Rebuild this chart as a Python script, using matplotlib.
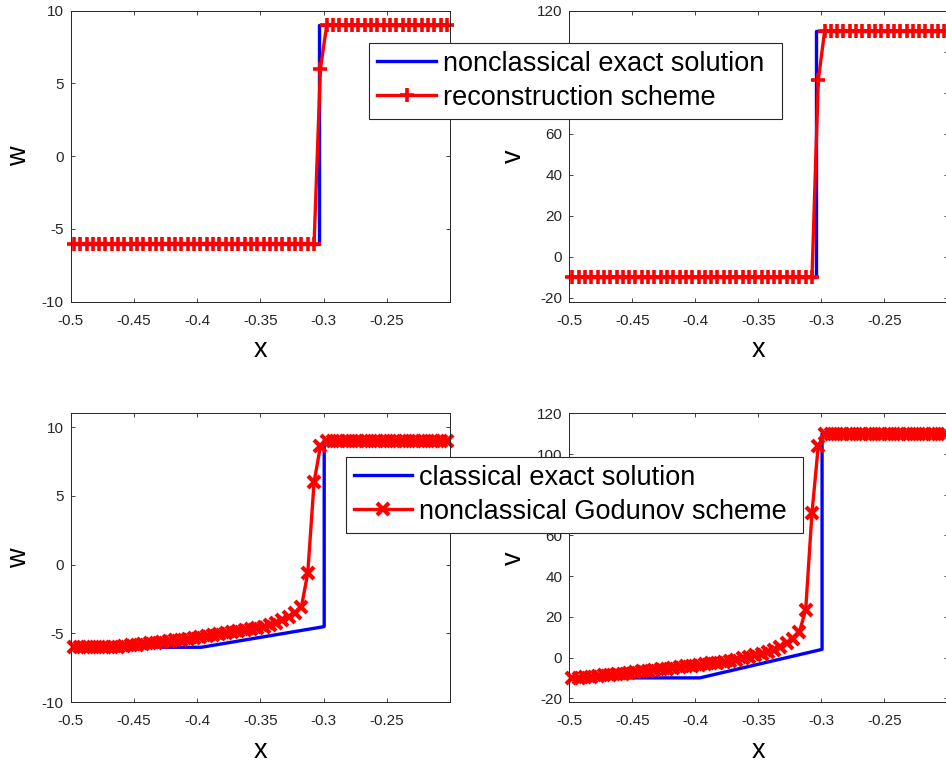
import numpy as np
import matplotlib.pyplot as plt

plt.rcParams['font.family'] = ['Liberation Sans', 'DejaVu Sans']
plt.rcParams['axes.unicode_minus'] = False

# mesh cell centres shown in the window
x_cells = np.round(np.arange(60) * 0.005 - 0.4975, 4)

# nonclassical exact solution (top row)
x_exact_nc = [-0.5, -0.304, -0.304, -0.2]
w_exact_nc = [-6.0, -6.0, 9.0, 9.0]
v_exact_nc = [-10.0, -10.0, 110.0, 110.0]

# reconstruction scheme (top row)
w_recon = [-6.0] * 39 + [6.0] + [9.0] * 20
v_recon = [-10.0] * 39 + [86.0] + [110.0] * 20

# classical exact solution (bottom row)
x_exact_cl = [-0.5, -0.3965, -0.2995, -0.2995, -0.2]
w_exact_cl = [-6.0, -6.0, -4.5, 9.0, 9.0]
v_exact_cl = [-10.0, -10.0, 4.0, 110.0, 110.0]

# nonclassical Godunov scheme (bottom row)
w_god = [-6.0, -6.0, -6.0, -6.0, -6.0, -5.99, -5.98, -5.95, -5.91, -5.87,
         -5.82, -5.77, -5.72, -5.67, -5.61, -5.56, -5.50, -5.44, -5.38, -5.32,
         -5.26, -5.20, -5.13, -5.06, -4.99, -4.92, -4.85, -4.77, -4.69, -4.60,
         -4.50, -4.38, -4.24, -4.05, -3.80, -3.50, -3.05, -0.6, 6.0, 8.6] + [9.0] * 20
v_god = [-10.0, -9.9, -9.7, -9.4, -9.1, -8.8, -8.5, -8.2, -7.9, -7.5,
         -7.1, -6.8, -6.4, -6.1, -5.8, -5.4, -5.1, -4.7, -4.4, -4.0,
         -3.7, -3.3, -2.9, -2.5, -2.0, -1.5, -1.0, -0.4, 0.3, 1.0,
         1.8, 2.8, 3.9, 5.3, 7.0, 9.2, 12.6, 23.4, 71.0, 104.0] + [110.0] * 20

xticks = [-0.5, -0.45, -0.4, -0.35, -0.3, -0.25]
xticklabels = ['-0.5', '-0.45', '-0.4', '-0.35', '-0.3', '-0.25']
wticks = [-10, -5, 0, 5, 10]
vticks = [-20, 0, 20, 40, 60, 80, 100, 120]

W, H = 946, 765
fig = plt.figure(figsize=(W / 100, H / 100), dpi=100)


def px_axes(left, top, right, bottom):
    return fig.add_axes([left / W, 1 - bottom / H, (right - left) / W, (bottom - top) / H])


ax_tl = px_axes(70.7, 10.7, 450, 301.7)
ax_tr = px_axes(569.3, 10.7, 947.5, 301.7)
ax_bl = px_axes(70.7, 413.3, 450, 702.3)
ax_br = px_axes(569.3, 413.3, 947.5, 702.3)

dark = '#262626'
lw = 2.4

panels = [
    (ax_tl, x_exact_nc, w_exact_nc, w_recon, '+', 'w', (-10, 10), wticks),
    (ax_tr, x_exact_nc, v_exact_nc, v_recon, '+', 'v', (-22, 120), vticks),
    (ax_bl, x_exact_cl, w_exact_cl, w_god, 'x', 'w', (-10, 11), wticks),
    (ax_br, x_exact_cl, v_exact_cl, v_god, 'x', 'v', (-22, 120), vticks),
]

handles = {}
for ax, xe, ye, ynum, mk, ylab, ylim, yt in panels:
    hb, = ax.plot(xe, ye, color='blue', lw=lw)
    if mk == '+':
        hr, = ax.plot(x_cells, ynum, color='red', lw=lw, marker='+', ms=10, mew=2.6,
                      clip_on=False)
    else:
        hr, = ax.plot(x_cells, ynum, color='red', lw=lw, marker='x', ms=8, mew=3,
                      clip_on=False)
    handles[ax] = (hb, hr)
    ax.set_xlim(-0.5, -0.2)
    ax.set_ylim(*ylim)
    ax.set_xticks(xticks)
    ax.set_xticklabels(xticklabels)
    ax.set_yticks(yt)
    ax.tick_params(direction='in', top=True, right=True, length=3, width=0.6,
                   colors=dark, labelsize=11, pad=8.5)
    ax.tick_params(axis='y', pad=5)
    for s in ax.spines.values():
        s.set_color(dark)
        s.set_linewidth(0.7)
    ax.set_xlabel('x', fontsize=19.5, labelpad=7, color='black')
    ax.set_ylabel(ylab, fontsize=19.5, labelpad=7, color='black')

leg_kw = dict(loc='upper left', mode='expand', fontsize=19.5, numpoints=1,
              fancybox=False, framealpha=1, edgecolor=dark, borderaxespad=0,
              borderpad=0.3, labelspacing=0.3, handlelength=2.15, handletextpad=0.26)

hb, hr = handles[ax_tl]
leg1 = fig.legend([hb, hr], ['nonclassical exact solution', 'reconstruction scheme'],
                  bbox_to_anchor=(369.3 / W, 1 - 118.3 / H, (781.7 - 369.3) / W, 75.6 / H),
                  **leg_kw)
leg1.get_frame().set_linewidth(0.8)

hb, hr = handles[ax_bl]
leg2 = fig.legend([hb, hr], ['classical exact solution', 'nonclassical Godunov scheme'],
                  bbox_to_anchor=(345.7 / W, 1 - 533.3 / H, (803.3 - 345.7) / W, 76.6 / H),
                  **leg_kw)
leg2.get_frame().set_linewidth(0.8)

fig.savefig('out.png', dpi=100)
